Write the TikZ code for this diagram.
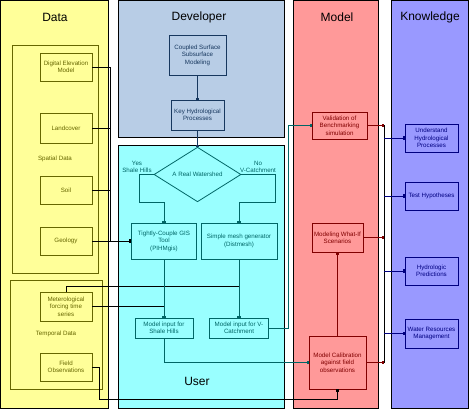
\documentclass[tikz,border=0pt]{standalone}
\usepackage{fontspec}
\setmainfont{Liberation Sans}
\usetikzlibrary{arrows.meta,shapes.geometric,calc}
\definecolor{datafill}{RGB}{255,255,153}
\definecolor{devfill}{RGB}{184,205,230}
\definecolor{userfill}{RGB}{153,255,255}
\definecolor{modelfill}{RGB}{255,153,153}
\definecolor{knowfill}{RGB}{153,153,255}
\definecolor{olive}{RGB}{102,102,0}
\definecolor{devline}{RGB}{23,55,94}
\definecolor{teal}{RGB}{0,102,102}
\definecolor{maroon}{RGB}{128,0,0}
\definecolor{navy}{RGB}{0,0,128}
\tikzset{
  col/.style={draw=black,line width=0.8pt},
  coltitle/.style={font=\fontsize{12}{14}\selectfont,text=black},
  bx/.style={rectangle,draw,line width=0.8pt,inner sep=0pt,align=center,font=\fontsize{6.2}{7.4}\selectfont},
  dbox/.style={bx,draw=olive,text=olive},
  devbox/.style={bx,draw=devline,text=devline},
  ubox/.style={bx,draw=teal,text=teal},
  mbox/.style={bx,draw=maroon,text=maroon},
  kbox/.style={bx,draw=navy,text=navy},
  grp/.style={draw=olive,line width=0.8pt},
  lbl/.style={font=\fontsize{6.2}{7.4}\selectfont,align=center},
  tip/.style={-{Square[length=2pt,width=3.5pt]}},
  conn/.style={line width=0.8pt}
}
\begin{document}
\begin{tikzpicture}[x=1pt,y=-1pt]
\useasboundingbox (0,0) rectangle (469,409);
% columns
\fill[datafill] (0,0) rectangle (108,409);
\draw[col] (0.4,0.4) rectangle (108,408.6);
\fill[devfill] (118,0.4) rectangle (284,137);
\draw[col] (118,0.4) rectangle (284,137);
\fill[userfill] (118,145) rectangle (284,409);
\draw[col] (118,145) rectangle (284,408.6);
\fill[modelfill] (293,0) rectangle (378,409);
\draw[col] (293,0.4) rectangle (378,408.6);
\fill[knowfill] (391,0) rectangle (469,409);
\draw[col] (391,0.4) rectangle (468.6,408.6);
% titles
\node[coltitle] (tdata) at (55,17) {Data};
\node[coltitle] (tdev) at (199,17) {Developer};
\node[coltitle] (tmodel) at (337,17) {Model};
\node[coltitle] (tknow) at (430,17) {Knowledge};
\node[coltitle] (tuser) at (197,381) {User};
% groups
\draw[grp] (12,45) rectangle (98,273);
\draw[grp] (10,280) rectangle (102,389);
\node[lbl,text=olive] (lsp) at (55,159) {Spatial Data};
\node[lbl,text=olive] (ltp) at (56,334) {Temporal Data};
% data boxes
\node[dbox,minimum width=52,minimum height=28] (dem) at (66,67) {Digital Elevation\\Model};
\node[dbox,minimum width=52,minimum height=30] (land) at (66,128) {Landcover};
\node[dbox,minimum width=52,minimum height=28] (soil) at (66,190) {Soil};
\node[dbox,minimum width=52,minimum height=28] (geo) at (66,241) {Geology};
\node[dbox,minimum width=52,minimum height=29] (met) at (66,306.5) {Meterological\\forcing time\\series};
\node[dbox,minimum width=52,minimum height=28] (field) at (66,367) {Field\\Observations};
% developer
\node[devbox,minimum width=57,minimum height=40] (coupled) at (197.5,55) {Coupled Surface\\Subsurface\\Modeling};
\node[devbox,minimum width=53,minimum height=30] (key) at (197.5,115) {Key Hydrological\\Processes};
% user
\node[diamond,draw=teal,line width=0.8pt,minimum width=87,minimum height=37,inner sep=0pt,text=teal,font=\fontsize{6.2}{7.4}\selectfont] (dia) at (197.5,174.5) {A Real Watershed};
\node[lbl,text=teal] (lyes) at (137,167) {Yes\\Shale Hills};
\node[lbl,text=teal] (lno) at (258,167) {No\\V-Catchment};
\node[ubox,minimum width=65,minimum height=36] (tight) at (164,241) {Tightly-Couple GIS\\Tool\\(PIHMgis)};
\node[ubox,minimum width=76,minimum height=36] (mesh) at (239,241) {Simple mesh generator\\(Distmesh)};
\node[ubox,minimum width=58,minimum height=20] (inSH) at (164,328) {Model input for\\Shale Hills};
\node[ubox,minimum width=59,minimum height=20] (inV) at (239,328) {Model input for V-\\Catchment};
% model
\node[mbox,minimum width=55,minimum height=27] (valid) at (339.5,125.5) {Validation of\\Benchmarking\\simulation};
\node[mbox,minimum width=51,minimum height=29] (whatif) at (337.5,237.5) {Modeling What-If\\Scenarios};
\node[mbox,minimum width=57,minimum height=53] (calib) at (337.5,362.5) {Model Calibration\\against field\\observations};
% knowledge
\node[kbox,minimum width=53,minimum height=28] (und) at (431.5,138) {Understand\\Hydrological\\Processes};
\node[kbox,minimum width=53,minimum height=28] (test) at (431.5,196) {Test Hypotheses};
\node[kbox,minimum width=53,minimum height=28] (pred) at (431.5,271) {Hydrologic\\Predictions};
\node[kbox,minimum width=53,minimum height=29] (water) at (431.5,333.5) {Water Resources\\Management};
% coordinates
\coordinate (dj) at (110,241);
\coordinate (mj) at (239,286);
\coordinate (fc) at (99,399);
\coordinate (bt) at (384,125.5);
\coordinate (bb) at (384,362.5);
% data connectors
\draw[conn,black] (dem.east) -| (dj);
\draw[conn,black] (land.east) -- (land.east -| dj);
\draw[conn,black] (soil.east) -- (soil.east -| dj);
\draw[conn,black,tip] (geo.east) -- (tight.west);
\draw[conn,black] (met.north) |- (mj);
\draw[conn,black] (met.east) -- (met.east -| inSH.north);
\draw[conn,black,tip] (field.east) -| (fc) -| (calib.south);
% developer connectors
\draw[conn,devline,tip] (coupled.south) -- (key.north);
\draw[conn,devline,tip] (key.south) -- (dia.north);
% user connectors
\draw[conn,teal,tip] (dia.west) -- ++(-14,0) |- ($(tight.north)+(0,-20)$) -- (tight.north);
\draw[conn,teal,tip] (dia.east) -- ++(34,0) |- ($(mesh.north)+(0,-20)$) -- (mesh.north);
\draw[conn,teal,tip] (tight.south) -- (inSH.north);
\draw[conn,teal,tip] (mesh.south) -- (inV.north);
\draw[conn,teal,tip] (inV.east) -- ++(19,0) |- (valid.west);
\draw[conn,teal,tip] (inSH.south) |- (calib.west);
% model connectors
\draw[conn,maroon,tip] (calib.north) -- (whatif.south);
\draw[conn,black] (bt) -- (bb);
\draw[conn,maroon,tip] (valid.east) -- (valid.east -| bt);
\draw[conn,maroon,tip] (whatif.east) -- (whatif.east -| bt);
\draw[conn,maroon,tip] (calib.east) -- (calib.east -| bt);
% knowledge connectors
\draw[conn,navy,tip] (und.west -| bt) -- (und.west);
\draw[conn,navy,tip] (test.west -| bt) -- (test.west);
\draw[conn,navy,tip] (pred.west -| bt) -- (pred.west);
\draw[conn,navy,tip] (water.west -| bt) -- (water.west);
\end{tikzpicture}
\end{document}
